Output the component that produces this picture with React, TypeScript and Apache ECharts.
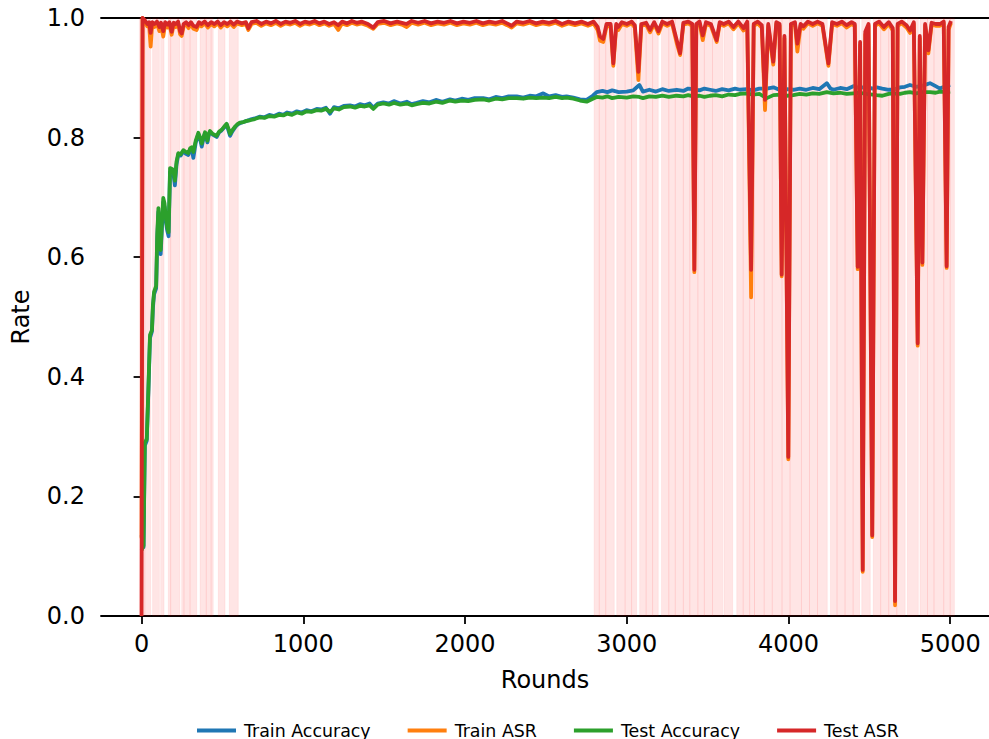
import React, { useEffect, useRef } from "react";
import * as echarts from "echarts";

const seriesNames = ["Train Accuracy", "Train ASR", "Test Accuracy", "Test ASR"];
const seriesColors = ["#1f77b4", "#ff7f0e", "#2ca02c", "#d62728"];
const xTicks = [0, 1000, 2000, 3000, 4000, 5000];

const trainAccuracy: [number, number][] = [
  [0,0.135],[12,0.115],[20,0.285],[32,0.293],[42,0.375],[52,0.465],[64,0.476],[70,0.515],[77,0.538],[90,0.548],[97,0.632],[104,0.676],[111,0.625],[118,0.605],[126,0.650],[134,0.692],[142,0.684],[150,0.660],[158,0.645],[167,0.635],[176,0.742],[186,0.745],[196,0.742],[206,0.720],[216,0.755],[227,0.772],[242,0.770],[258,0.777],[274,0.773],[289,0.771],[300,0.780],[310,0.781],[320,0.766],[335,0.792],[351,0.806],[362,0.797],[372,0.785],[382,0.798],[392,0.807],[400,0.802],[407,0.792],[415,0.804],[423,0.809],[440,0.805],[464,0.801],[480,0.809],[495,0.812],[510,0.817],[526,0.822],[537,0.812],[547,0.803],[560,0.810],[580,0.818],[595,0.822],[608,0.824],[630,0.826],[650,0.828],[670,0.830],[700,0.832],[732,0.835],[760,0.834],[790,0.838],[820,0.836],[850,0.840],[876,0.838],[900,0.842],[930,0.840],[960,0.844],[990,0.842],[1020,0.846],[1050,0.844],[1083,0.848],[1110,0.847],[1140,0.850],[1165,0.840],[1190,0.851],[1220,0.849],[1250,0.853],[1289,0.854],[1320,0.852],[1350,0.856],[1380,0.854],[1410,0.857],[1433,0.850],[1460,0.857],[1495,0.859],[1530,0.857],[1560,0.861],[1600,0.857],[1640,0.860],[1670,0.856],[1701,0.858],[1740,0.861],[1780,0.859],[1820,0.863],[1860,0.860],[1907,0.864],[1940,0.862],[1980,0.865],[2020,0.863],[2060,0.866],[2113,0.866],[2150,0.864],[2190,0.868],[2230,0.866],[2270,0.869],[2320,0.869],[2360,0.867],[2400,0.870],[2440,0.869],[2484,0.874],[2520,0.869],[2560,0.871],[2600,0.868],[2628,0.869],[2670,0.867],[2711,0.864],[2752,0.863],[2790,0.870],[2814,0.876],[2850,0.878],[2880,0.876],[2910,0.879],[2950,0.876],[3000,0.877],[3040,0.879],[3078,0.888],[3100,0.877],[3140,0.880],[3180,0.877],[3220,0.881],[3260,0.878],[3309,0.880],[3350,0.878],[3380,0.882],[3412,0.881],[3450,0.879],[3480,0.882],[3515,0.880],[3550,0.878],[3590,0.881],[3630,0.879],[3670,0.882],[3700,0.880],[3742,0.881],[3780,0.879],[3820,0.882],[3866,0.882],[3907,0.884],[3950,0.879],[3990,0.881],[4030,0.880],[4070,0.882],[4110,0.880],[4150,0.883],[4190,0.881],[4237,0.891],[4260,0.882],[4278,0.880],[4320,0.883],[4360,0.881],[4401,0.886],[4440,0.883],[4480,0.885],[4520,0.882],[4546,0.884],[4580,0.882],[4620,0.880],[4649,0.880],[4690,0.884],[4720,0.885],[4751,0.888],[4790,0.885],[4830,0.887],[4875,0.891],[4910,0.886],[4937,0.882],[4970,0.886],[5000,0.888]
];

const testAccuracy: [number, number][] = [
  [0,0.110],[12,0.118],[20,0.290],[32,0.296],[42,0.380],[52,0.470],[64,0.478],[70,0.520],[77,0.542],[90,0.552],[97,0.640],[104,0.682],[111,0.640],[118,0.612],[126,0.660],[134,0.699],[142,0.690],[150,0.665],[158,0.650],[167,0.642],[176,0.749],[186,0.748],[196,0.746],[206,0.728],[216,0.760],[227,0.774],[242,0.772],[258,0.779],[274,0.776],[289,0.774],[300,0.782],[310,0.784],[320,0.776],[335,0.795],[351,0.808],[362,0.800],[372,0.790],[382,0.800],[392,0.809],[400,0.805],[407,0.795],[415,0.806],[423,0.811],[440,0.806],[464,0.803],[480,0.810],[495,0.813],[510,0.818],[526,0.823],[537,0.815],[547,0.806],[560,0.812],[580,0.819],[595,0.823],[608,0.825],[630,0.826],[650,0.828],[670,0.829],[700,0.831],[732,0.834],[760,0.833],[790,0.836],[820,0.835],[850,0.838],[876,0.837],[900,0.840],[930,0.838],[960,0.842],[990,0.840],[1020,0.844],[1050,0.843],[1083,0.846],[1110,0.845],[1140,0.848],[1165,0.843],[1190,0.849],[1220,0.847],[1250,0.851],[1289,0.852],[1320,0.850],[1350,0.853],[1380,0.852],[1410,0.854],[1433,0.848],[1460,0.855],[1495,0.857],[1530,0.855],[1560,0.858],[1600,0.855],[1640,0.857],[1670,0.854],[1701,0.856],[1740,0.858],[1780,0.857],[1820,0.860],[1860,0.858],[1907,0.862],[1940,0.860],[1980,0.862],[2020,0.861],[2060,0.863],[2113,0.864],[2150,0.862],[2190,0.865],[2230,0.864],[2270,0.866],[2320,0.866],[2360,0.865],[2400,0.867],[2440,0.866],[2484,0.867],[2520,0.866],[2560,0.868],[2600,0.866],[2628,0.867],[2670,0.865],[2711,0.862],[2752,0.860],[2790,0.865],[2814,0.868],[2850,0.867],[2880,0.869],[2910,0.866],[2950,0.868],[3000,0.867],[3040,0.869],[3078,0.868],[3100,0.866],[3140,0.869],[3180,0.868],[3220,0.870],[3260,0.868],[3309,0.870],[3350,0.869],[3380,0.871],[3412,0.869],[3450,0.870],[3480,0.868],[3515,0.870],[3550,0.871],[3590,0.869],[3630,0.872],[3670,0.871],[3700,0.873],[3742,0.874],[3780,0.872],[3820,0.873],[3866,0.866],[3907,0.871],[3950,0.872],[3990,0.870],[4030,0.871],[4070,0.873],[4110,0.872],[4150,0.874],[4190,0.873],[4237,0.876],[4278,0.874],[4320,0.875],[4360,0.873],[4401,0.874],[4440,0.875],[4480,0.873],[4520,0.872],[4546,0.871],[4580,0.870],[4620,0.873],[4649,0.874],[4690,0.873],[4720,0.875],[4751,0.876],[4790,0.874],[4830,0.876],[4875,0.876],[4910,0.875],[4937,0.877],[4970,0.876],[5000,0.877]
];

const testAsr: [number, number][] = [
  [0,0.0],[6,1.0],[20,0.996],[35,0.990],[46,0.993],[56,0.975],[66,0.993],[80,0.990],[95,0.994],[110,0.985],[120,0.992],[134,0.978],[146,0.993],[160,0.989],[172,0.993],[186,0.977],[198,0.992],[212,0.990],[226,0.994],[238,0.978],[248,0.974],[260,0.990],[275,0.993],[290,0.988],[305,0.993],[320,0.987],[340,0.985],[355,0.993],[370,0.990],[390,0.994],[410,0.988],[430,0.993],[450,0.990],[470,0.994],[490,0.988],[510,0.993],[530,0.990],[550,0.994],[570,0.989],[590,0.994],[620,0.991],[645,0.993],[660,0.983],[680,0.993],[710,0.995],[740,0.990],[770,0.994],[800,0.991],[830,0.995],[860,0.990],[890,0.994],[920,0.992],[950,0.995],[980,0.990],[1010,0.994],[1040,0.992],[1070,0.995],[1100,0.991],[1130,0.994],[1160,0.990],[1190,0.993],[1216,0.988],[1240,0.994],[1270,0.991],[1300,0.995],[1330,0.992],[1360,0.994],[1400,0.990],[1433,0.984],[1460,0.993],[1500,0.995],[1540,0.991],[1580,0.994],[1610,0.992],[1639,0.990],[1670,0.995],[1710,0.992],[1750,0.995],[1790,0.991],[1830,0.994],[1870,0.992],[1910,0.995],[1950,0.991],[1990,0.994],[2030,0.992],[2070,0.995],[2110,0.991],[2150,0.994],[2190,0.992],[2230,0.995],[2260,0.991],[2288,0.987],[2320,0.994],[2360,0.992],[2400,0.995],[2440,0.991],[2480,0.994],[2520,0.992],[2560,0.995],[2600,0.990],[2640,0.994],[2680,0.991],[2720,0.994],[2760,0.990],[2795,0.994],
  [2820,0.985],[2835,0.969],[2855,0.965],[2875,0.990],[2900,0.990],[2917,0.924],[2935,0.990],[2948,0.985],[2970,0.993],[3000,0.990],[3030,0.994],[3050,0.988],[3072,0.910],[3090,0.990],[3120,0.992],[3144,0.980],[3170,0.993],[3196,0.978],[3220,0.994],[3250,0.990],[3280,0.994],[3309,0.963],[3330,0.941],[3350,0.992],[3380,0.994],[3405,0.990],[3418,0.579],[3430,0.990],[3450,0.994],[3470,0.971],[3490,0.993],[3520,0.990],[3556,0.963],[3575,0.993],[3600,0.990],[3630,0.994],[3660,0.985],[3690,0.994],[3722,0.983],[3745,0.994],[3769,0.579],[3785,0.990],[3810,0.994],[3835,0.988],[3855,0.863],[3875,0.990],[3906,0.927],[3925,0.993],[3945,0.990],[3958,0.571],[3975,0.970],[3999,0.266],[4015,0.990],[4040,0.993],[4055,0.957],[4075,0.990],[4092,0.986],[4120,0.994],[4150,0.990],[4180,0.994],[4210,0.990],[4247,0.924],[4270,0.993],[4300,0.990],[4330,0.994],[4360,0.988],[4390,0.993],[4410,0.990],[4428,0.584],[4443,0.960],[4459,0.077],[4475,0.977],[4495,0.990],[4518,0.135],[4535,0.990],[4560,0.994],[4590,0.985],[4620,0.993],[4645,0.983],[4659,0.025],[4675,0.990],[4700,0.994],[4730,0.988],[4752,0.979],[4775,0.993],[4799,0.456],[4812,0.970],[4828,0.591],[4845,0.990],[4865,0.946],[4885,0.992],[4910,0.990],[4937,0.990],[4960,0.994],[4978,0.585],[4990,0.985],[5005,0.995]
];

const trainAsr: [number, number][] = [
  [0,0.13],[6,1.0],[20,0.993],[35,0.986],[46,0.990],[56,0.952],[66,0.990],[80,0.985],[95,0.991],[110,0.978],[120,0.989],[134,0.969],[146,0.990],[160,0.984],[172,0.990],[186,0.972],[198,0.988],[212,0.985],[226,0.991],[238,0.973],[248,0.970],[260,0.986],[275,0.990],[290,0.983],[305,0.990],[320,0.982],[340,0.980],[355,0.990],[370,0.986],[390,0.991],[410,0.984],[430,0.990],[450,0.986],[470,0.991],[490,0.984],[510,0.990],[530,0.986],[550,0.991],[570,0.985],[590,0.991],[620,0.988],[645,0.990],[660,0.980],[680,0.990],[710,0.992],[740,0.987],[770,0.991],[800,0.988],[830,0.992],[860,0.987],[890,0.991],[920,0.989],[950,0.992],[980,0.987],[1010,0.991],[1040,0.989],[1070,0.992],[1100,0.988],[1130,0.991],[1160,0.987],[1190,0.990],[1216,0.980],[1240,0.991],[1270,0.988],[1300,0.992],[1330,0.989],[1360,0.991],[1400,0.987],[1433,0.982],[1460,0.990],[1500,0.992],[1540,0.988],[1580,0.991],[1610,0.989],[1639,0.985],[1670,0.992],[1710,0.989],[1750,0.992],[1790,0.988],[1830,0.991],[1870,0.989],[1910,0.992],[1950,0.988],[1990,0.991],[2030,0.989],[2070,0.992],[2110,0.988],[2150,0.991],[2190,0.989],[2230,0.992],[2260,0.988],[2288,0.984],[2320,0.991],[2360,0.989],[2400,0.992],[2440,0.988],[2480,0.991],[2520,0.989],[2560,0.992],[2600,0.987],[2640,0.991],[2680,0.988],[2720,0.991],[2760,0.987],[2795,0.991],
  [2820,0.980],[2835,0.962],[2855,0.960],[2875,0.986],[2900,0.987],[2917,0.920],[2935,0.987],[2948,0.980],[2970,0.990],[3000,0.987],[3030,0.991],[3050,0.984],[3072,0.896],[3090,0.987],[3120,0.989],[3144,0.976],[3170,0.990],[3196,0.974],[3220,0.991],[3250,0.987],[3280,0.991],[3309,0.958],[3330,0.938],[3350,0.989],[3380,0.991],[3405,0.987],[3418,0.575],[3430,0.987],[3450,0.991],[3470,0.963],[3490,0.990],[3520,0.987],[3556,0.960],[3575,0.990],[3600,0.987],[3630,0.991],[3660,0.981],[3690,0.991],[3722,0.979],[3745,0.991],[3769,0.533],[3785,0.987],[3810,0.991],[3835,0.984],[3855,0.846],[3875,0.987],[3906,0.922],[3925,0.990],[3945,0.987],[3958,0.568],[3975,0.966],[3999,0.262],[4015,0.987],[4040,0.990],[4055,0.944],[4075,0.987],[4092,0.982],[4120,0.991],[4150,0.987],[4180,0.991],[4210,0.987],[4247,0.920],[4270,0.990],[4300,0.987],[4330,0.991],[4360,0.984],[4390,0.990],[4410,0.987],[4428,0.580],[4443,0.955],[4459,0.074],[4475,0.972],[4495,0.987],[4518,0.132],[4535,0.987],[4560,0.991],[4590,0.981],[4620,0.990],[4645,0.979],[4659,0.018],[4675,0.987],[4700,0.991],[4730,0.984],[4752,0.975],[4775,0.990],[4799,0.452],[4812,0.966],[4828,0.587],[4845,0.987],[4865,0.941],[4885,0.989],[4910,0.987],[4937,0.987],[4960,0.991],[4978,0.582],[4990,0.980],[5005,0.992]
];

const attackSpans: [number, number][] = [
  [-14,20],[20,56],[68,110],[118,139],[165,180],[180,237],[248,262],[262,300],[300,341],[361,400],[400,430],[430,443],[474,516],[542,598],
  [2798,2830],[2830,2870],[2870,2923],[2938,2990],[2990,3030],[3030,3061],[3080,3120],[3120,3160],[3160,3195],[3215,3260],[3260,3300],[3300,3350],[3350,3390],[3390,3440],[3440,3480],[3480,3530],[3530,3593],[3601,3655],[3680,3720],[3720,3760],[3760,3790],[3790,3850],[3850,3900],[3900,3960],[3960,4010],[4010,4080],[4080,4130],[4130,4180],[4180,4240],[4260,4300],[4300,4350],[4350,4400],[4400,4440],[4453,4506],[4524,4570],[4570,4620],[4620,4670],[4670,4722],[4735,4803],[4813,4860],[4860,4900],[4900,4960],[4960,5000],[5000,5026]
];

const FONT = "DejaVu Sans";

export default function App() {
  const ref = useRef<HTMLDivElement>(null);
  useEffect(() => {
    if (!ref.current) return;
    const chart = echarts.init(ref.current, null, { renderer: "svg" });
    const lineData = [trainAccuracy, trainAsr, testAccuracy, testAsr];
    const lines = seriesNames.map((name, i) => ({
      name,
      type: "line",
      data: lineData[i],
      symbol: "none",
      showSymbol: false,
      silent: true,
      z: 3,
      color: seriesColors[i],
      lineStyle: { color: seriesColors[i], width: 3.8, join: "round" },
    }));
    chart.setOption({
      animation: false,
      backgroundColor: "#ffffff",
      grid: { left: 101, right: 0, top: 18, bottom: 123 },
      legend: {
        data: seriesNames,
        icon: "rect",
        itemWidth: 39,
        itemHeight: 4,
        itemGap: 37,
        left: 192,
        top: 717,
        textStyle: { fontFamily: FONT, fontSize: 17.4, color: "#000", padding: [0, 0, 0, 3] },
      },
      xAxis: [
        {
          type: "value",
          min: -251,
          max: 5240,
          name: "Rounds",
          nameLocation: "middle",
          nameGap: 52,
          nameTextStyle: { fontFamily: FONT, fontSize: 24, color: "#000" },
          axisLine: { show: true, lineStyle: { color: "#000", width: 1.8 } },
          axisTick: { show: true, length: 8, lineStyle: { color: "#000", width: 1.8 }, customValues: xTicks },
          axisLabel: { fontFamily: FONT, fontSize: 24, color: "#000", margin: 16, customValues: xTicks, formatter: (v: number) => String(v) },
          splitLine: { show: false },
        },
        {
          type: "value",
          position: "top",
          min: -251,
          max: 5240,
          axisLine: { show: true, lineStyle: { color: "#000", width: 1.8 } },
          axisTick: { show: false },
          axisLabel: { show: false },
          splitLine: { show: false },
        },
      ],
      yAxis: {
        type: "value",
        min: 0,
        max: 1,
        interval: 0.2,
        name: "Rate",
        nameLocation: "middle",
        nameGap: 68,
        nameTextStyle: { fontFamily: FONT, fontSize: 24, color: "#000" },
        axisLine: { show: true, lineStyle: { color: "#000", width: 1.8 } },
        axisTick: { show: true, length: 8, lineStyle: { color: "#000", width: 1.8 } },
        axisLabel: { fontFamily: FONT, fontSize: 24, color: "#000", margin: 16, formatter: (v: number) => v.toFixed(1) },
        splitLine: { show: false },
      },
      series: [
        {
          name: "attack",
          type: "line",
          data: [],
          silent: true,
          z: 1,
          markArea: {
            silent: true,
            itemStyle: { color: "rgba(255,0,0,0.1)", borderColor: "rgba(255,0,0,0.06)", borderWidth: 1 },
            data: attackSpans.map(([s, e]) => [{ xAxis: s }, { xAxis: e }]),
          },
        },
        ...lines,
      ],
    });
    return () => chart.dispose();
  }, []);
  return <div ref={ref} style={{ position: "fixed", left: 0, top: 0, width: 989, height: 739 }} />;
}
